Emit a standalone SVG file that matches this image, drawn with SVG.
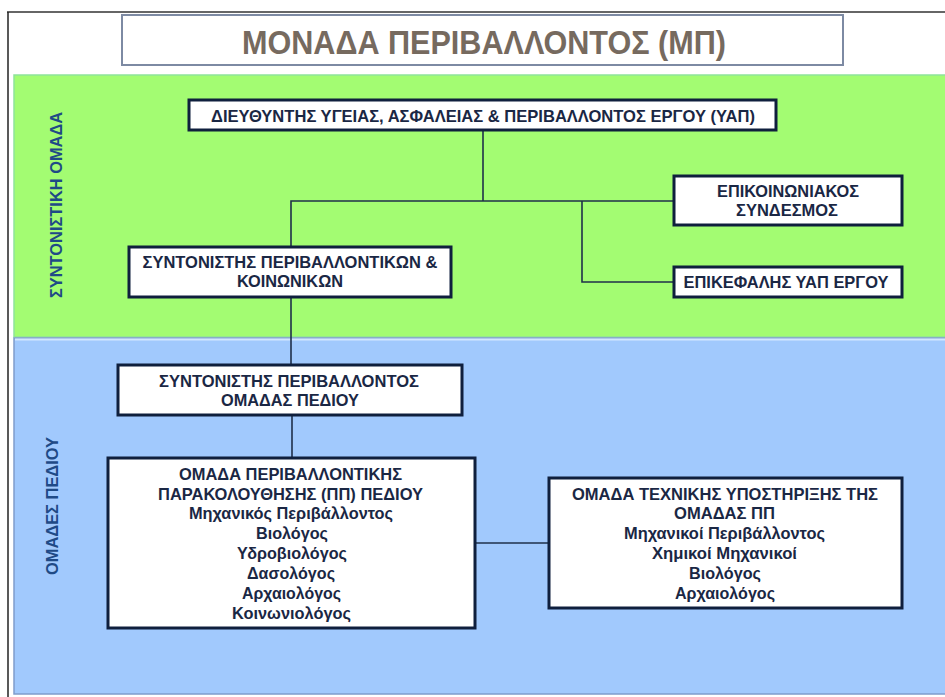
<svg xmlns="http://www.w3.org/2000/svg" width="945" height="697" viewBox="0 0 945 697">
<style>
.box{fill:#ffffff;stroke:#0f1f3d;stroke-width:3}
.t{font-family:"Liberation Sans",Arial,sans-serif;font-weight:bold;font-size:16.5px;fill:#1a2744;text-anchor:middle}
.lbl{font-family:"Liberation Sans",Arial,sans-serif;font-weight:bold;font-size:16px;fill:#1f4a86;text-anchor:middle}
.conn{fill:none;stroke:#1f2f4a;stroke-width:1.6}
</style>
<rect x="0" y="0" width="945" height="697" fill="#ffffff"/>
<g id="frame">
<line x1="7" y1="12" x2="945" y2="12" stroke="#333" stroke-width="1.5"/>
<line x1="8" y1="12" x2="8" y2="697" stroke="#222" stroke-width="1.5"/>
</g>
<g id="title">
<rect x="122" y="15" width="721" height="50" fill="#ffffff" stroke="#7d8aa3" stroke-width="2"/>
<text x="484" y="54" font-family="'Liberation Sans',Arial,sans-serif" font-weight="bold" font-size="33" fill="#766a5f" text-anchor="middle" textLength="484" lengthAdjust="spacingAndGlyphs">ΜΟΝΑΔΑ ΠΕΡΙΒΑΛΛΟΝΤΟΣ (ΜΠ)</text>
</g>
<g id="band-coord">
<rect x="14" y="75" width="940" height="262" fill="#a3fc72" stroke="#8fe39a" stroke-width="1.5"/>
<text class="lbl" transform="translate(62 205) rotate(-90)" textLength="186" lengthAdjust="spacingAndGlyphs">ΣΥΝΤΟΝΙΣΤΙΚΗ ΟΜΑΔΑ</text>
</g>
<g id="band-field">
<rect x="14" y="338" width="940" height="356" fill="#a1c9fd" stroke="#7f9ccc" stroke-width="1.5"/>
<line x1="15" y1="339.5" x2="945" y2="339.5" stroke="#d3e7ff" stroke-width="2"/>
<text class="lbl" transform="translate(58 506) rotate(-90)" textLength="138" lengthAdjust="spacingAndGlyphs">ΟΜΑΔΕΣ ΠΕΔΙΟΥ</text>
</g>
<g id="connectors">
<polyline class="conn" points="483,131 483,201"/>
<polyline class="conn" points="291,247 291,201 674,201"/>
<polyline class="conn" points="582,201 582,282 674,282"/>
<polyline class="conn" points="291,297 291,365"/>
<polyline class="conn" points="292,415 292,458"/>
<polyline class="conn" points="475,543 549,543"/>
</g>
<g id="n-director">
<rect class="box" x="189" y="100" width="587" height="30"/>
<text class="t" x="483" y="121.5" textLength="544" lengthAdjust="spacingAndGlyphs">ΔΙΕΥΘΥΝΤΗΣ ΥΓΕΙΑΣ, ΑΣΦΑΛΕΙΑΣ &amp; ΠΕΡΙΒΑΛΛΟΝΤΟΣ ΕΡΓΟΥ (ΥΑΠ)</text>
</g>
<g id="n-coord-env-soc">
<rect class="box" x="129" y="247" width="322" height="50"/>
<text class="t" x="290" y="268" textLength="295" lengthAdjust="spacingAndGlyphs">ΣΥΝΤΟΝΙΣΤΗΣ ΠΕΡΙΒΑΛΛΟΝΤΙΚΩΝ &amp;</text>
<text class="t" x="290" y="287" textLength="106" lengthAdjust="spacingAndGlyphs">ΚΟΙΝΩΝΙΚΩΝ</text>
</g>
<g id="n-comm">
<rect class="box" x="674" y="176" width="228" height="49"/>
<text class="t" x="788" y="197" textLength="142" lengthAdjust="spacingAndGlyphs">ΕΠΙΚΟΙΝΩΝΙΑΚΟΣ</text>
<text class="t" x="787" y="216" textLength="102" lengthAdjust="spacingAndGlyphs">ΣΥΝΔΕΣΜΟΣ</text>
</g>
<g id="n-head">
<rect class="box" x="674" y="267" width="228" height="30"/>
<text class="t" x="786" y="288" textLength="205" lengthAdjust="spacingAndGlyphs">ΕΠΙΚΕΦΑΛΗΣ ΥΑΠ ΕΡΓΟΥ</text>
</g>
<g id="n-coord-field">
<rect class="box" x="118" y="365" width="344" height="50"/>
<text class="t" x="289" y="387" textLength="260" lengthAdjust="spacingAndGlyphs">ΣΥΝΤΟΝΙΣΤΗΣ ΠΕΡΙΒΑΛΛΟΝΤΟΣ</text>
<text class="t" x="290" y="406" textLength="138" lengthAdjust="spacingAndGlyphs">ΟΜΑΔΑΣ ΠΕΔΙΟΥ</text>
</g>
<g id="n-monitoring">
<rect class="box" x="108" y="458" width="367" height="170"/>
<text class="t" x="290.5" y="479.5" textLength="223" lengthAdjust="spacingAndGlyphs">ΟΜΑΔΑ ΠΕΡΙΒΑΛΛΟΝΤΙΚΗΣ</text>
<text class="t" x="290.5" y="499.5" textLength="265" lengthAdjust="spacingAndGlyphs">ΠΑΡΑΚΟΛΟΥΘΗΣΗΣ (ΠΠ) ΠΕΔΙΟΥ</text>
<text class="t" x="291" y="519" textLength="204" lengthAdjust="spacingAndGlyphs">Μηχανικός Περιβάλλοντος</text>
<text class="t" x="292" y="539" textLength="72" lengthAdjust="spacingAndGlyphs">Βιολόγος</text>
<text class="t" x="292" y="559" textLength="110" lengthAdjust="spacingAndGlyphs">Υδροβιολόγος</text>
<text class="t" x="291" y="579" textLength="88" lengthAdjust="spacingAndGlyphs">Δασολόγος</text>
<text class="t" x="291.5" y="599" textLength="99" lengthAdjust="spacingAndGlyphs">Αρχαιολόγος</text>
<text class="t" x="291.5" y="619" textLength="119" lengthAdjust="spacingAndGlyphs">Κοινωνιολόγος</text>
</g>
<g id="n-support">
<rect class="box" x="549" y="478" width="353" height="130"/>
<text class="t" x="725" y="499.5" textLength="306" lengthAdjust="spacingAndGlyphs">ΟΜΑΔΑ ΤΕΧΝΙΚΗΣ ΥΠΟΣΤΗΡΙΞΗΣ ΤΗΣ</text>
<text class="t" x="724.5" y="519" textLength="101" lengthAdjust="spacingAndGlyphs">ΟΜΑΔΑΣ ΠΠ</text>
<text class="t" x="724.5" y="539" textLength="201" lengthAdjust="spacingAndGlyphs">Μηχανικοί Περιβάλλοντος</text>
<text class="t" x="724.5" y="559" textLength="145" lengthAdjust="spacingAndGlyphs">Χημικοί Μηχανικοί</text>
<text class="t" x="725" y="579" textLength="72" lengthAdjust="spacingAndGlyphs">Βιολόγος</text>
<text class="t" x="725" y="599" textLength="100" lengthAdjust="spacingAndGlyphs">Αρχαιολόγος</text>
</g>
</svg>
